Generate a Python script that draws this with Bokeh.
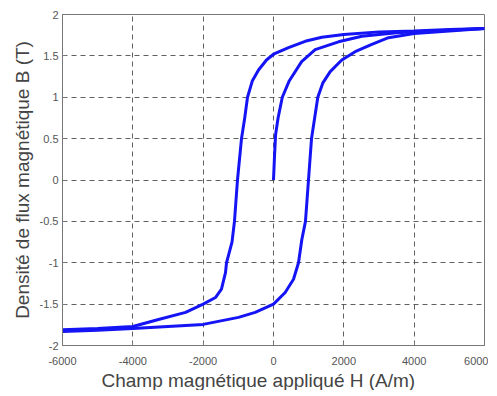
from bokeh.plotting import figure
from bokeh.models import Range1d, FixedTicker, CustomJSTickFormatter, Title
from bokeh.embed import file_html
from bokeh.resources import INLINE

# Descending branch (from +H saturation to -H saturation)
H_desc = [6000, 5000, 4000, 3000, 2000, 1374, 900, 427, 0, -200, -426, -600, -739,
          -825, -910, -1024, -1110, -1180, -1336, -1365, -1480, -1650, -2000, -2500,
          -3270, -4000, -5000, -6000]
B_desc = [1.83, 1.82, 1.80, 1.79, 1.757, 1.725, 1.676, 1.60, 1.52, 1.45, 1.33, 1.2, 1.0,
          0.73, 0.5, 0.0, -0.5, -0.75, -1.0, -1.12, -1.32, -1.42, -1.5, -1.6,
          -1.685, -1.77, -1.795, -1.81]

# Ascending branch (from -H saturation to +H saturation)
H_asc = [-6000, -5000, -4000, -3000, -2000, -995, -521, 0, 332, 569, 711, 806, 909, 995,
         1081, 1170, 1260, 1400, 1612, 1943, 2322, 2796, 3270, 4000, 5000, 6000]
B_asc = [-1.83, -1.815, -1.795, -1.77, -1.745, -1.66, -1.6, -1.5, -1.36, -1.2, -1.0, -0.72,
         -0.5, 0.0, 0.5, 0.75, 1.0, 1.17, 1.31, 1.45, 1.55, 1.64, 1.72, 1.77, 1.80, 1.83]

# Initial magnetization curve
H_init = [0, 30, 60, 130, 250, 450, 800, 1185, 1848, 2512, 3500, 4500, 6000]
B_init = [0, 0.3, 0.55, 0.75, 1.0, 1.2, 1.43, 1.575, 1.67, 1.737, 1.78, 1.80, 1.83]

x_ticks = [-6000, -4000, -2000, 0, 2000, 4000, 6000]
y_ticks = [-2, -1.5, -1, -0.5, 0, 0.5, 1, 1.5, 2]

x_label = "Champ magnétique appliqué H (A/m)"
y_label = "Densité de flux magnétique B (T)"

FONT = "Liberation Sans"

p = figure(output_backend="svg", toolbar_location=None,
           x_range=Range1d(-6000, 6000), y_range=Range1d(-2, 2),
           frame_width=422, frame_height=331,
           min_border_left=62, min_border_right=4, min_border_top=14, min_border_bottom=4)
p.background_fill_color = "white"
p.border_fill_color = "white"
p.outline_line_color = "#777777"
p.outline_line_width = 1

for ax in (p.xaxis, p.yaxis):
    ax.formatter = CustomJSTickFormatter(code="return tick.toString();")
    ax.major_label_text_font = FONT
    ax.major_label_text_font_size = "11px"
    ax.major_label_text_color = "#555555"
    ax.axis_line_color = "#777777"
    ax.major_tick_line_color = "#777777"
    ax.major_tick_in = 4
    ax.major_tick_out = 0
    ax.minor_tick_line_color = None
    ax.axis_label_text_font = FONT
    ax.axis_label_text_font_size = "19px"
    ax.axis_label_text_font_style = "normal"
    ax.axis_label_text_color = "#444444"

p.xaxis.ticker = FixedTicker(ticks=x_ticks)
p.yaxis.ticker = FixedTicker(ticks=y_ticks)
p.xaxis.major_label_standoff = 11
p.yaxis.major_label_standoff = 4
p.yaxis.axis_label = y_label
p.yaxis.axis_label_standoff = 4

p.xgrid.ticker = FixedTicker(ticks=x_ticks)
p.ygrid.ticker = FixedTicker(ticks=y_ticks)
for g in (p.xgrid, p.ygrid):
    g.grid_line_color = "#444444"
    g.grid_line_dash = "5 4"
    g.grid_line_width = 1
    g.grid_line_alpha = 0.85

p.add_layout(Title(text=x_label, align="left", offset=39, text_font=FONT,
                   text_font_size="19px", text_font_style="normal",
                   text_color="#444444", standoff=0), "below")

LC = "#1414f5"
p.line(H_desc, B_desc, line_color=LC, line_width=3)
p.line(H_asc, B_asc, line_color=LC, line_width=3)
p.line(H_init, B_init, line_color=LC, line_width=3)

open("out.html", "w").write(file_html(p, INLINE))
